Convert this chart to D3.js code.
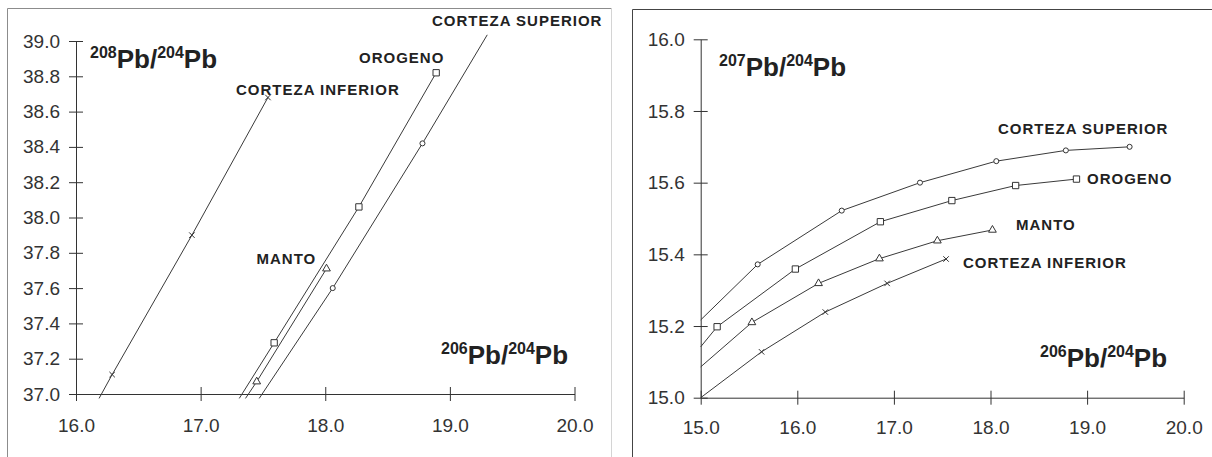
<!DOCTYPE html>
<html>
<head>
<meta charset="utf-8">
<script src="https://cdn.jsdelivr.net/npm/d3@7"></script>
<style>
  body { margin: 0; background: #fff; }
  svg { display: block; font-family: "Liberation Sans", Arial, sans-serif; }
</style>
</head>
<body>
<div id="chart"></div>
<script>
var svgWidth = 1212;
var svgHeight = 457;

// Left panel: 208Pb/204Pb vs 206Pb/204Pb
var leftXTicks = [16.0, 17.0, 18.0, 19.0, 20.0];
var leftYTicks = [37.0, 37.2, 37.4, 37.6, 37.8, 38.0, 38.2, 38.4, 38.6, 38.8, 39.0];

var leftCorInfX = [16.185, 16.29, 16.93, 17.54];
var leftCorInfY = [36.975, 37.11, 37.90, 38.68];
var leftMantoX = [17.36, 17.45, 18.01];
var leftMantoY = [36.975, 37.07, 37.71];
var leftOrogX = [17.31, 17.59, 18.27, 18.89];
var leftOrogY = [36.975, 37.29, 38.06, 38.82];
var leftCorSupX = [17.47, 18.06, 18.78, 19.30];
var leftCorSupY = [36.975, 37.60, 38.42, 39.035];

// Right panel: 207Pb/204Pb vs 206Pb/204Pb
var rightXTicks = [15.0, 16.0, 17.0, 18.0, 19.0, 20.0];
var rightYTicks = [15.0, 15.2, 15.4, 15.6, 15.8, 16.0];

var rightCorSupX = [15.0, 15.59, 16.46, 17.27, 18.06, 18.78, 19.44];
var rightCorSupY = [15.217, 15.372, 15.522, 15.600, 15.660, 15.690, 15.700];
var rightOrogX = [15.0, 15.17, 15.98, 16.86, 17.60, 18.26, 18.89];
var rightOrogY = [15.142, 15.198, 15.359, 15.491, 15.550, 15.592, 15.610];
var rightMantoX = [15.0, 15.53, 16.22, 16.85, 17.45, 18.02];
var rightMantoY = [15.086, 15.210, 15.319, 15.388, 15.438, 15.468];
var rightCorInfX = [15.0, 15.63, 16.29, 16.93, 17.54];
var rightCorInfY = [15.0, 15.128, 15.239, 15.319, 15.387];

var ink = "#333";

// x shaped marker
var symbolCross = {
  draw: function(ctx, size) {
    var r = Math.sqrt(size) / 2;
    ctx.moveTo(-r, -r); ctx.lineTo(r, r);
    ctx.moveTo(-r, r); ctx.lineTo(r, -r);
  }
};

var markers = {
  cross: d3.symbol().type(symbolCross).size(30),
  tri: d3.symbol().type(d3.symbolTriangle).size(26),
  square: d3.symbol().type(d3.symbolSquare).size(40),
  circle: d3.symbol().type(d3.symbolCircle).size(20)
};

var svg = d3.select("#chart")
  .append("svg")
  .attr("width", svgWidth)
  .attr("height", svgHeight);

// panel frames
svg.append("line").attr("x1", 7.5).attr("y1", 8.5).attr("x2", 611.5).attr("y2", 8.5).attr("stroke", "#8c8c8c");
svg.append("line").attr("x1", 7.5).attr("y1", 8.5).attr("x2", 7.5).attr("y2", 457).attr("stroke", "#8c8c8c");
svg.append("line").attr("x1", 611.5).attr("y1", 8.5).attr("x2", 611.5).attr("y2", 457).attr("stroke", "#d4d4d4");
svg.append("line").attr("x1", 632.5).attr("y1", 9.5).attr("x2", 1212).attr("y2", 9.5).attr("stroke", "#444");
svg.append("line").attr("x1", 632.5).attr("y1", 9.5).attr("x2", 632.5).attr("y2", 457).attr("stroke", "#444");

function drawAxes(x, y, xTicks, yTicks, xPad) {
  var bottomAxis = d3.axisBottom(x)
    .tickValues(xTicks)
    .tickFormat(d3.format(".1f"))
    .tickSize(7)
    .tickSizeOuter(0)
    .tickPadding(xPad);
  var leftAxis = d3.axisLeft(y)
    .tickValues(yTicks)
    .tickFormat(d3.format(".1f"))
    .tickSize(7)
    .tickSizeOuter(0)
    .tickPadding(9);

  var gx = svg.append("g")
    .attr("transform", `translate(0, ${y.range()[0]})`)
    .call(bottomAxis);
  gx.selectAll(".tick line").attr("y1", -7);

  var gy = svg.append("g")
    .attr("transform", `translate(${x.range()[0]}, 0)`)
    .call(leftAxis);
  gy.selectAll(".tick line").attr("x1", 7);

  [gx, gy].forEach(function(g) {
    g.attr("font-size", 19).attr("font-family", "Liberation Sans, Arial, sans-serif");
    g.select(".domain").attr("stroke", ink);
    g.selectAll(".tick line").attr("stroke", ink);
    g.selectAll("text").attr("fill", ink);
  });
}

function drawSeries(x, y, xs, ys, shape) {
  var pts = xs.map(function(d, i) { return [d, ys[i]]; });
  var line = d3.line()
    .x(d => x(d[0]))
    .y(d => y(d[1]));

  svg.append("path")
    .datum(pts)
    .attr("d", line)
    .attr("fill", "none")
    .attr("stroke", "#3a3a3a")
    .attr("stroke-width", 1);

  // markers only for points inside the axis ranges
  var xd = x.domain(), yd = y.domain();
  var inside = pts.filter(d => d[0] > xd[0] && d[1] > yd[0] && d[1] < yd[1]);
  svg.selectAll(null)
    .data(inside)
    .enter()
    .append("path")
    .attr("d", markers[shape])
    .attr("transform", d => `translate(${x(d[0])}, ${y(d[1])})`)
    .attr("fill", "#fff")
    .attr("stroke", "#333")
    .attr("stroke-width", 1);
}

function ratioLabel(px, py, top, bottom) {
  var t = svg.append("text")
    .attr("x", px)
    .attr("y", py)
    .attr("fill", "#222")
    .attr("font-weight", "bold");
  t.append("tspan").attr("font-size", "16px").attr("dy", -10).text(top);
  t.append("tspan").attr("font-size", "26px").attr("dy", 10).text("Pb/");
  t.append("tspan").attr("font-size", "16px").attr("dy", -10).text(bottom);
  t.append("tspan").attr("font-size", "26px").attr("dy", 10).text("Pb");
}

function seriesLabel(px, py, txt) {
  svg.append("text")
    .attr("x", px)
    .attr("y", py)
    .attr("fill", "#222")
    .attr("font-weight", "bold")
    .attr("font-size", "15px")
    .attr("letter-spacing", "1px")
    .text(txt);
}

// ---------- left panel ----------
var xLeft = d3.scaleLinear().domain([16, 20]).range([76, 574.5]);
var yLeft = d3.scaleLinear().domain([37, 39]).range([394, 41]);

drawAxes(xLeft, yLeft, leftXTicks, leftYTicks, 18);
drawSeries(xLeft, yLeft, leftCorInfX, leftCorInfY, "cross");
drawSeries(xLeft, yLeft, leftOrogX, leftOrogY, "square");
drawSeries(xLeft, yLeft, leftMantoX, leftMantoY, "tri");
drawSeries(xLeft, yLeft, leftCorSupX, leftCorSupY, "circle");

ratioLabel(90, 68, "208", "204");
ratioLabel(441, 364, "206", "204");
seriesLabel(236, 94.5, "CORTEZA INFERIOR");
seriesLabel(432, 26, "CORTEZA SUPERIOR");
seriesLabel(359, 62.5, "OROGENO");
seriesLabel(256.5, 264, "MANTO");

// ---------- right panel ----------
var xRight = d3.scaleLinear().domain([15, 20]).range([700.7, 1183.7]);
var yRight = d3.scaleLinear().domain([15, 16]).range([397.7, 39.3]);

drawAxes(xRight, yRight, rightXTicks, rightYTicks, 16);
drawSeries(xRight, yRight, rightCorSupX, rightCorSupY, "circle");
drawSeries(xRight, yRight, rightOrogX, rightOrogY, "square");
drawSeries(xRight, yRight, rightMantoX, rightMantoY, "tri");
drawSeries(xRight, yRight, rightCorInfX, rightCorInfY, "cross");

ratioLabel(719, 76, "207", "204");
ratioLabel(1040, 366.5, "206", "204");
seriesLabel(998, 134, "CORTEZA SUPERIOR");
seriesLabel(1087, 184, "OROGENO");
seriesLabel(1016, 230, "MANTO");
seriesLabel(963, 267.5, "CORTEZA INFERIOR");
</script>
</body>
</html>
